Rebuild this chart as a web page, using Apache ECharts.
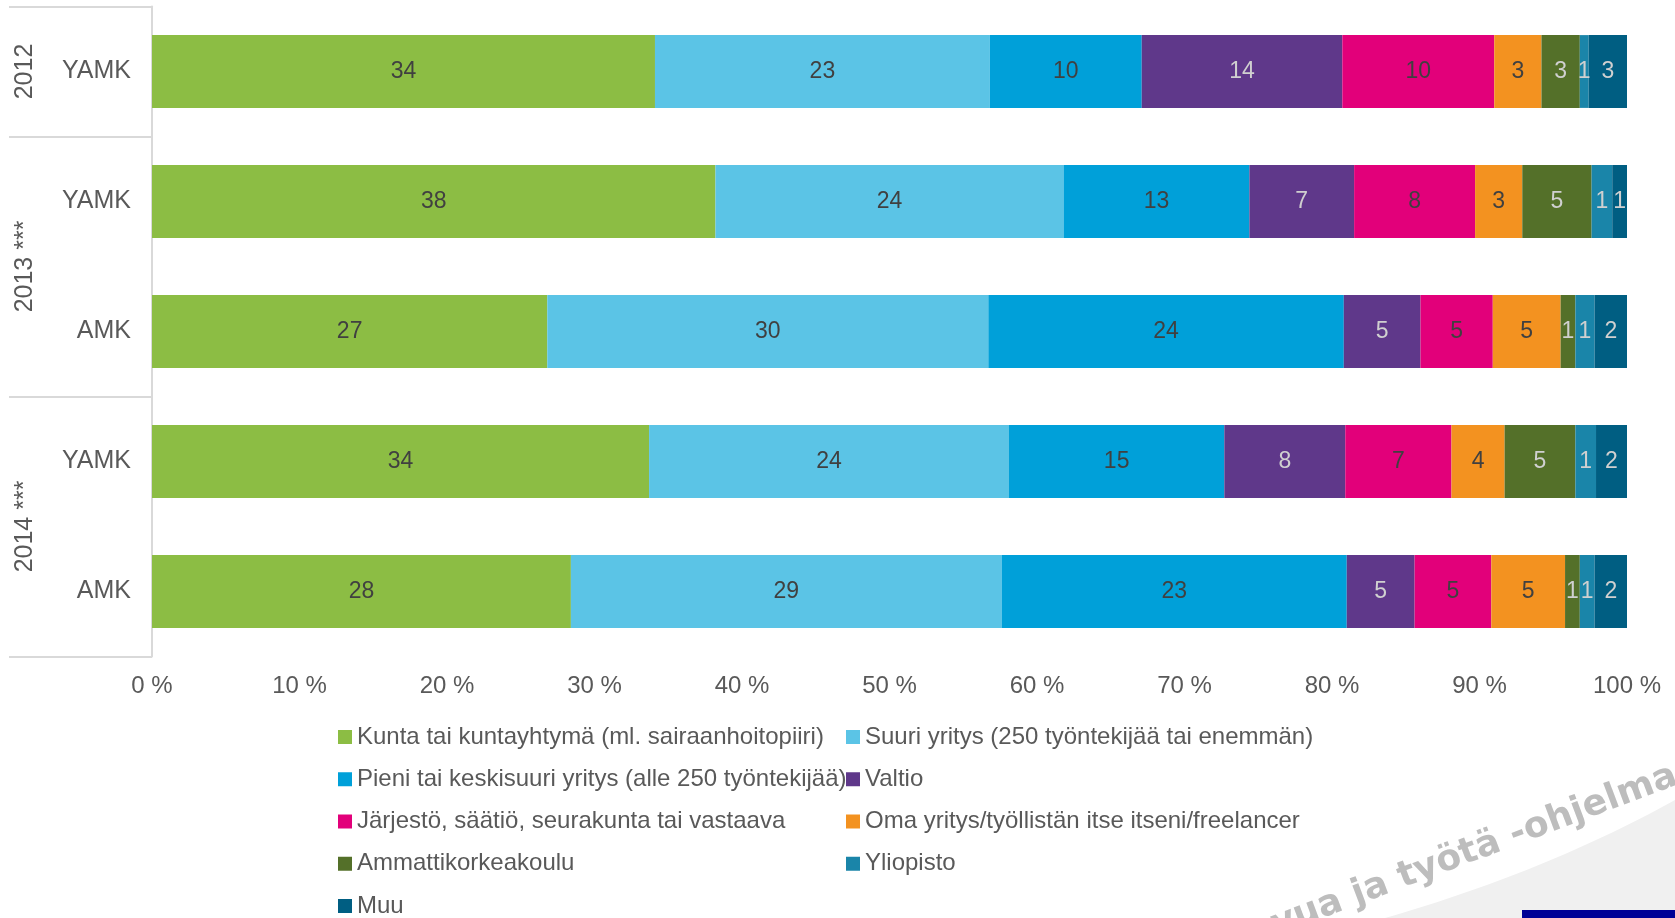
<!DOCTYPE html>
<html>
<head>
<meta charset="utf-8">
<script src="https://cdn.jsdelivr.net/npm/echarts@6/dist/echarts.min.js"></script>
<style>
html,body{margin:0;padding:0;background:#fff;}
#chart{width:1675px;height:918px;}
</style>
</head>
<body>
<div id="chart"></div>
<script>
// ---- data ----
const rowLabels = ['YAMK', 'YAMK', 'AMK', 'YAMK', 'AMK'];
const groupNames = ['2012', '2013 ***', '2014 ***'];
const groupSizes = [1, 2, 2];
const xTicks = [0, 10, 20, 30, 40, 50, 60, 70, 80, 90, 100];

const seriesNames = [
  'Kunta tai kuntayhtymä (ml. sairaanhoitopiiri)',
  'Suuri yritys (250 työntekijää tai enemmän)',
  'Pieni tai keskisuuri yritys (alle 250 työntekijää)',
  'Valtio',
  'Järjestö, säätiö, seurakunta tai vastaava',
  'Oma yritys/työllistän itse itseni/freelancer',
  'Ammattikorkeakoulu',
  'Yliopisto',
  'Muu'
];
const kunta     = [34.1, 38.2, 26.8, 33.7, 28.4];
const suuri     = [22.7, 23.6, 29.9, 24.4, 29.2];
const pieni     = [10.3, 12.6, 24.1, 14.6, 23.4];
const valtio    = [13.6, 7.1, 5.2, 8.2, 4.6];
const jarjesto  = [10.3, 8.2, 4.9, 7.2, 5.2];
const oma       = [3.2, 3.2, 4.6, 3.6, 5.0];
const amk       = [2.6, 4.7, 1.0, 4.8, 1.0];
const yliopisto = [0.6, 1.4, 1.3, 1.4, 1.0];
const muu       = [2.6, 1.0, 2.2, 2.1, 2.2];
const seriesValues = [kunta, suuri, pieni, valtio, jarjesto, oma, amk, yliopisto, muu];

// ---- styles ----
const colors = ['#8CBD44', '#5BC4E6', '#00A0D9', '#5F388A', '#E2007A', '#F39220', '#547029', '#1A85A9', '#005E82'];
const labelColors = ['#404040', '#404040', '#404040', '#D0D0D0', '#404040', '#404040', '#D0D0D0', '#D0D0D0', '#D0D0D0'];
const FONT = '"Liberation Sans", Arial, sans-serif';
const TXT = '#595959';

// group boundaries / centres in row units
const groupBounds = [0];
const groupCenters = [];
groupSizes.forEach((s, i) => {
  groupCenters.push(groupBounds[i] + s / 2);
  groupBounds.push(groupBounds[i] + s);
});

// decorative watermark swoosh outline (quadratic curve sampled)
const swoosh = [];
(function () {
  const p0 = [1385, 918], p1 = [1545, 872], p2 = [1675, 800];
  for (let k = 0; k <= 30; k++) {
    const t = k / 30, u = 1 - t;
    swoosh.push([u * u * p0[0] + 2 * u * t * p1[0] + t * t * p2[0], u * u * p0[1] + 2 * u * t * p1[1] + t * t * p2[1]]);
  }
  swoosh.push([1675, 918]);
})();

const chart = echarts.init(document.getElementById('chart'), null, {renderer: 'canvas'});

const series = seriesNames.map((name, i) => ({
  name: name,
  type: 'bar',
  stack: 'total',
  barWidth: '56%',
  yAxisIndex: 0,
  data: seriesValues[i],
  itemStyle: {color: colors[i]},
  label: {
    show: true,
    position: 'inside',
    fontFamily: FONT,
    fontSize: 23,
    color: labelColors[i],
    formatter: p => String(Math.round(p.value))
  },
  emphasis: {disabled: true}
}));

const legendCommon = {
  orient: 'vertical',
  top: 725,
  height: 300,
  padding: 0,
  itemWidth: 14,
  itemHeight: 14,
  itemGap: 18.25,
  icon: 'rect',
  selectedMode: false,
  textStyle: {fontFamily: FONT, fontSize: 24, color: TXT}
};

chart.setOption({
  animation: false,
  backgroundColor: '#fff',
  textStyle: {fontFamily: FONT},
  grid: {left: 152, right: 48, top: 6.5, bottom: 261.5, containLabel: false},
  legend: [
    Object.assign({}, legendCommon, {left: 338, data: [seriesNames[0], seriesNames[2], seriesNames[4], seriesNames[6], seriesNames[8]]}),
    Object.assign({}, legendCommon, {left: 846, data: [seriesNames[1], seriesNames[3], seriesNames[5], seriesNames[7]]})
  ],
  xAxis: {
    type: 'value',
    min: xTicks[0],
    max: xTicks[xTicks.length - 1],
    interval: xTicks[1] - xTicks[0],
    axisLine: {show: false},
    axisTick: {show: false},
    splitLine: {show: false},
    axisLabel: {fontFamily: FONT, fontSize: 24, color: TXT, margin: 18, formatter: v => v + ' %'}
  },
  yAxis: [
    {
      type: 'category',
      position: 'left',
      inverse: true,
      data: rowLabels,
      axisLine: {show: true, lineStyle: {color: '#D9D9D9', width: 2}},
      axisTick: {show: false},
      splitLine: {show: false},
      axisLabel: {fontFamily: FONT, fontSize: 25, color: TXT, margin: 21}
    },
    {
      type: 'value',
      position: 'left',
      inverse: true,
      min: 0,
      max: rowLabels.length,
      interval: 0.5,
      axisLine: {show: false},
      splitLine: {show: false},
      axisTick: {
        show: true,
        inside: false,
        length: 143,
        customValues: groupBounds,
        lineStyle: {color: '#D9D9D9', width: 2}
      },
      axisLabel: {
        show: true,
        customValues: groupCenters,
        rotate: 90,
        margin: 127,
        align: 'center',
        verticalAlign: 'middle',
        fontFamily: FONT,
        fontSize: 25,
        color: TXT,
        formatter: v => {
          const idx = groupCenters.findIndex(c => Math.abs(c - v) < 1e-6);
          return idx >= 0 ? groupNames[idx] : '';
        }
      }
    }
  ],
  series: series,
  graphic: [
    {
      type: 'polygon',
      silent: true,
      z: -10,
      shape: {points: swoosh},
      style: {fill: '#F0F0F0'}
    },
    {
      type: 'text',
      silent: true,
      z: -5,
      x: 1214,
      y: 968,
      rotation: 0.36,
      style: {
        text: 'kasvua ja työtä -ohjelma',
        font: 'bold 36px "DejaVu Sans", Verdana, sans-serif',
        fill: '#BDBDBD',
        textAlign: 'left',
        textVerticalAlign: 'bottom'
      }
    },
    {
      type: 'rect',
      silent: true,
      z: 10,
      shape: {x: 1522, y: 910, width: 153, height: 8},
      style: {fill: '#000096'}
    }
  ]
});
</script>
</body>
</html>
